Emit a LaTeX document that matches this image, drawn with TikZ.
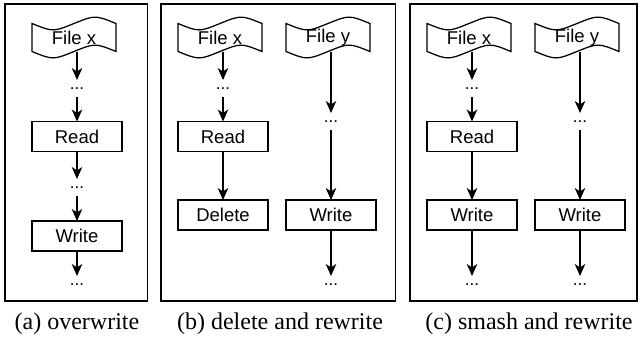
\documentclass[tikz,border=0pt]{standalone}
\usepackage{fontspec}
\setmainfont{Liberation Serif}
\newfontfamily\boxfont{Liberation Sans}
\usetikzlibrary{arrows.meta,calc}

% wavy "tape" outline drawn around a named node
\newcommand\tapeoutline[1]{%
  \draw[line width=1.25pt]
    ([yshift=-5pt]#1.north west)
      .. controls ([xshift=21pt,yshift=-13.5pt]#1.north west) .. ([xshift=42pt,yshift=-5pt]#1.north west)
      .. controls ([xshift=63pt,yshift=3.5pt]#1.north west) .. ([yshift=-5pt]#1.north east)
    -- ([yshift=5pt]#1.south east)
      .. controls ([xshift=-21pt,yshift=13.5pt]#1.south east) .. ([xshift=-42pt,yshift=5pt]#1.south east)
      .. controls ([xshift=-63pt,yshift=-3.5pt]#1.south east) .. ([yshift=5pt]#1.south west)
    -- cycle;}

\begin{document}
\begin{tikzpicture}[x=1pt,y=1pt,
  every node/.style={inner sep=0pt, outer sep=0pt},
  procbox/.style={draw, line width=1.25pt, minimum width=90pt, minimum height=30pt,
    font=\boxfont\fontsize{18.5}{21}\selectfont},
  tapebox/.style={minimum width=84pt, minimum height=38pt,
    font=\boxfont\fontsize{18.5}{21}\selectfont},
  ellip/.style={font=\boxfont\fontsize{17}{20}\selectfont,
    text height=9pt, text depth=8pt, anchor=base},
  flow/.style={line width=1.3pt, -{Stealth[length=12pt,width=10.5pt,inset=3.5pt]}},
  panel/.style={draw, line width=1.3pt},
  caption/.style={font=\fontsize{24}{28}\selectfont, anchor=base}
]
\useasboundingbox (0,0) rectangle (639,-346);

% panel frames
\draw[panel] (5,-4) rectangle (147.5,-301);
\draw[panel] (161,-4) rectangle (395.5,-301);
\draw[panel] (410,-4) rectangle (637,-301);

% (a) overwrite
\node[tapebox] (fxa) at (74,-37.5) {File x};
\tapeoutline{fxa}
\node[ellip] (da1) at (77,-89) {...};
\node[procbox] (rda) at (77,-136.5) {Read};
\node[ellip] (da2) at (77,-188) {...};
\node[procbox] (wra) at (77,-236) {Write};
\node[ellip] (da3) at (77,-285) {...};
\draw[flow] ($(fxa.south -| da1)+(0,5)$) -- (da1.north);
\draw[flow] (da1.south) -- (rda.north);
\draw[flow] (rda.south) -- (da2.north);
\draw[flow] (da2.south) -- (wra.north);
\draw[flow] (wra.south) -- (da3.north);

% (b) delete and rewrite
\node[tapebox] (fxb) at (220,-37.5) {File x};
\tapeoutline{fxb}
\node[tapebox] (fyb) at (328,-37.5) {File y};
\tapeoutline{fyb}
\node[ellip] (db1) at (223,-89) {...};
\node[procbox] (rdb) at (223,-136.5) {Read};
\node[procbox] (dlb) at (223,-215) {Delete};
\node[ellip] (db2) at (331,-122) {...};
\node[procbox] (wrb) at (331,-215) {Write};
\node[ellip] (db3) at (331,-285) {...};
\draw[flow] ($(fxb.south -| db1)+(0,5)$) -- (db1.north);
\draw[flow] (db1.south) -- (rdb.north);
\draw[flow] (rdb.south) -- (dlb.north);
\draw[flow] ($(fyb.south -| db2)+(0,5)$) -- (db2.north);
\draw[flow] (db2.south) -- (wrb.north);
\draw[flow] (wrb.south) -- (db3.north);

% (c) smash and rewrite
\node[tapebox] (fxc) at (469,-37.5) {File x};
\tapeoutline{fxc}
\node[tapebox] (fyc) at (577,-37.5) {File y};
\tapeoutline{fyc}
\node[ellip] (dc1) at (472,-89) {...};
\node[procbox] (rdc) at (472,-136.5) {Read};
\node[procbox] (wxc) at (472,-215) {Write};
\node[ellip] (dc3) at (472,-285) {...};
\node[ellip] (dc2) at (580,-122) {...};
\node[procbox] (wyc) at (580,-215) {Write};
\node[ellip] (dc4) at (580,-285) {...};
\draw[flow] ($(fxc.south -| dc1)+(0,5)$) -- (dc1.north);
\draw[flow] (dc1.south) -- (rdc.north);
\draw[flow] (rdc.south) -- (wxc.north);
\draw[flow] (wxc.south) -- (dc3.north);
\draw[flow] ($(fyc.south -| dc2)+(0,5)$) -- (dc2.north);
\draw[flow] (dc2.south) -- (wyc.north);
\draw[flow] (wyc.south) -- (dc4.north);

% captions
\node[caption] (capa) at (77,-329) {(a) overwrite};
\node[caption] (capb) at (280,-329) {(b) delete and rewrite};
\node[caption] (capc) at (529,-329) {(c) smash and rewrite};
\end{tikzpicture}
\end{document}
